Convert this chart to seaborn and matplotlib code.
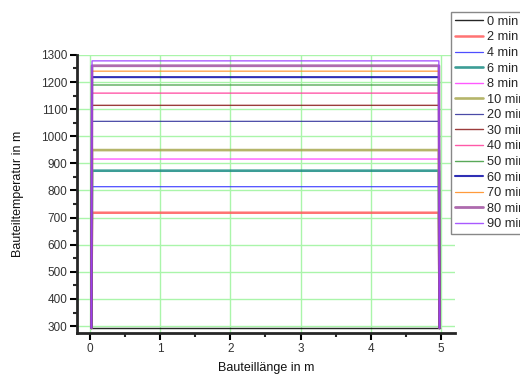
import matplotlib
matplotlib.use("Agg")
import matplotlib.pyplot as plt
from matplotlib.ticker import MultipleLocator
import seaborn as sns
import pandas as pd

# Data
times = ["0 min", "2 min", "4 min", "6 min", "8 min", "10 min", "20 min",
         "30 min", "40 min", "50 min", "60 min", "70 min", "80 min", "90 min"]
core_temps = [293, 718, 814, 873, 916, 949, 1055, 1114, 1159, 1189, 1218, 1240, 1260, 1278]
ambient = 293
x_nodes = [0.02, 0.03, 4.97, 4.98]

colors = ["#000000", "#ff5a5a", "#2f2fff", "#1a8c84", "#ff3cff", "#a8a850", "#2a2a98",
          "#8b1a1a", "#ff3c9a", "#3c9a3c", "#0a0aa8", "#ff8a1a", "#a050a0", "#9a3cff"]
widths = [1.0, 1.8, 0.9, 1.9, 1.0, 1.9, 0.9, 1.0, 1.0, 1.0, 1.5, 0.9, 2.0, 1.0]

rows = []
for t, T in zip(times, core_temps):
    temps = [ambient, T, T, ambient]
    for i, (xv, tv) in enumerate(zip(x_nodes, temps)):
        rows.append({"time": t, "x": xv, "T": tv, "order": i})
df = pd.DataFrame(rows)

sns.set_style("ticks")
plt.rcParams["font.family"] = ["Liberation Sans", "DejaVu Sans"]

fig = plt.figure(figsize=(5.2, 3.76), dpi=100)
ax = fig.add_axes([0.148, 0.114, 0.727, 0.740])

for t, c, w in zip(times, colors, widths):
    sub = df[df["time"] == t].sort_values("order")
    sns.lineplot(data=sub, x="x", y="T", ax=ax, color=c, lw=w, alpha=0.85,
                 sort=False, estimator=None, label=t)

ax.set_xlim(-0.185, 5.2)
ax.set_ylim(274, 1300)
ax.xaxis.set_major_locator(MultipleLocator(1))
ax.xaxis.set_minor_locator(MultipleLocator(0.5))
ax.yaxis.set_major_locator(MultipleLocator(100))
ax.yaxis.set_minor_locator(MultipleLocator(50))
ax.grid(True, which="major", color="#aaf5aa", lw=1.0)
ax.set_axisbelow(True)
for s in ["top", "right"]:
    ax.spines[s].set_visible(False)
for s in ["left", "bottom"]:
    ax.spines[s].set_linewidth(2.0)
ax.tick_params(which="major", direction="out", length=5, width=1.5, labelsize=8.5,
               colors="black", labelcolor="#333333", pad=2)
ax.tick_params(which="minor", direction="out", length=3, width=1.5)
ax.set_xlabel("Bauteillänge in m", fontsize=9, color="#111111", labelpad=5)
ax.set_ylabel("Bauteiltemperatur in m", fontsize=9, color="#111111", labelpad=12)

ax.get_legend().remove()
handles, labels = ax.get_legend_handles_labels()
leg = fig.legend(handles, labels, loc="upper left", bbox_to_anchor=(0.867, 0.968),
                 fontsize=9.2, handlelength=2.2, labelspacing=0.28, borderpad=0.3,
                 handletextpad=0.3, borderaxespad=0.0, frameon=True, fancybox=False,
                 framealpha=1, edgecolor="#888888")

fig.savefig("out.png", dpi=100)
